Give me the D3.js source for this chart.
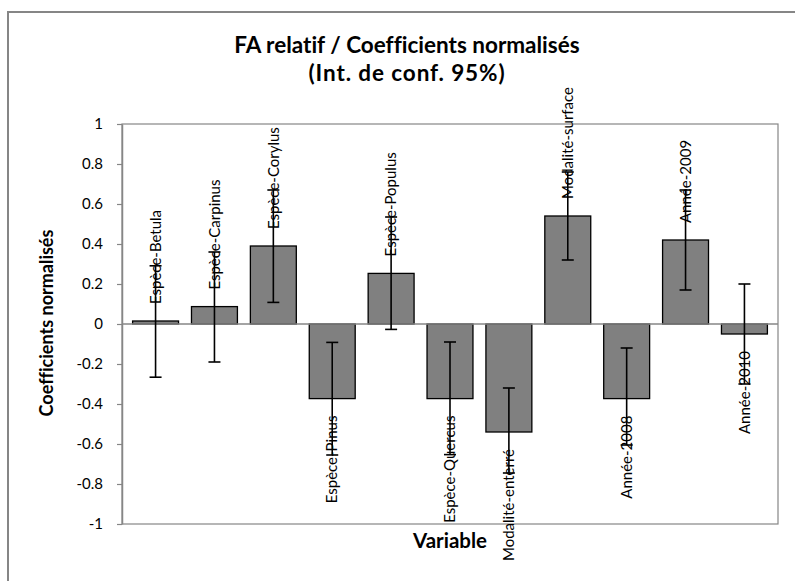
<!DOCTYPE html>
<html>
<head>
<meta charset="utf-8">
<script src="https://cdn.jsdelivr.net/npm/d3@7"></script>
<style>
  html, body { margin: 0; padding: 0; background: #fff; }
  svg { display: block; }
  text { font-family: Lato, "Noto Sans", sans-serif; font-variant-ligatures: none; }
</style>
</head>
<body>
<svg id="chart" width="795" height="581"></svg>
<script>
const categories = ["Espèce-Betula","Espèce-Carpinus","Espèce-Corylus","Espèce-Pinus","Espèce-Populus","Espèce-Quercus","Modalité-enterré","Modalité-surface","Année-2008","Année-2009","Année-2010"];
const values = [0.015, 0.087, 0.39, -0.373, 0.253, -0.373, -0.54, 0.54, -0.373, 0.42, -0.05];
const lower  = [-0.266, -0.19, 0.108, -0.655, -0.027, -0.653, -0.745, 0.32, -0.605, 0.17, -0.30];
const upper  = [0.291, 0.36, 0.67, -0.092, 0.535, -0.09, -0.32, 0.76, -0.12, 0.67, 0.20];
const yTicks = [-1, -0.8, -0.6, -0.4, -0.2, 0, 0.2, 0.4, 0.6, 0.8, 1];
const titleLines = ["FA relatif / Coefficients normalisés", "(Int. de conf. 95%)"];
const yTitle = "Coefficients normalisés";
const xTitle = "Variable";

const data = categories.map((c, i) => ({ c, v: values[i], lo: lower[i], hi: upper[i] }));

const svg = d3.select("#chart");
const plot = { x0: 122, x1: 778, y0: 124, y1: 524 };
const grey = "#868686";

// outer chart border (extends beyond the visible window)
svg.append("rect")
  .attr("x", 8).attr("y", 12).attr("width", 820).attr("height", 600)
  .attr("fill", "#fff").attr("stroke", grey).attr("stroke-width", 2);

const x = d3.scaleBand().domain(categories).range([plot.x0, plot.x1])
  .paddingInner(0.22).paddingOuter(0.18);
const y = d3.scaleLinear().domain([-1, 1]).range([plot.y1, plot.y0]);

// plot area frame
svg.append("rect")
  .attr("x", plot.x0).attr("y", plot.y0)
  .attr("width", plot.x1 - plot.x0).attr("height", plot.y1 - plot.y0)
  .attr("fill", "none").attr("stroke", grey).attr("stroke-width", 1.2);

// y axis
const yAxis = d3.axisLeft(y).tickValues(yTicks).tickSize(5).tickSizeOuter(0).tickPadding(14)
  .tickFormat(d => String(+d.toFixed(1)));
const ya = svg.append("g").attr("transform", `translate(${plot.x0},0)`).call(yAxis);
ya.select(".domain").attr("stroke", grey).attr("stroke-width", 1.5);
ya.selectAll(".tick line").attr("stroke", grey).attr("stroke-width", 1.2);
ya.selectAll(".tick text").attr("fill", "#000").style("font-size", "15px")
  .style("font-family", "Lato, sans-serif");

// bars
svg.append("g").selectAll("rect").data(data).join("rect")
  .attr("x", d => x(d.c))
  .attr("width", x.bandwidth())
  .attr("y", d => y(Math.max(0, d.v)))
  .attr("height", d => Math.abs(y(d.v) - y(0)))
  .attr("fill", "#808080").attr("stroke", "#000").attr("stroke-width", 1.3);

// zero axis line
svg.append("line")
  .attr("x1", plot.x0).attr("x2", plot.x1).attr("y1", y(0)).attr("y2", y(0))
  .attr("stroke", grey).attr("stroke-width", 1.5);

// category labels
svg.append("g").selectAll("text").data(data).join("text")
  .attr("transform", d => {
    const cx = x(d.c) + x.bandwidth() / 2;
    const yy = d.v >= 0 ? y(d.v) - 17 : y(d.v) + 17;
    return `translate(${cx},${yy}) rotate(-90)`;
  })
  .attr("text-anchor", d => d.v >= 0 ? "start" : "end")
  .attr("dy", "0.35em")
  .style("font-size", "15px")
  .attr("fill", "#000")
  .text(d => d.c);

// error bars
const eb = svg.append("g").attr("stroke", "#000").attr("stroke-width", 1.6);
const cap = 6;
data.forEach(d => {
  const cx = x(d.c) + x.bandwidth() / 2;
  eb.append("line").attr("x1", cx).attr("x2", cx).attr("y1", y(d.lo)).attr("y2", y(d.hi));
  eb.append("line").attr("x1", cx - cap).attr("x2", cx + cap).attr("y1", y(d.lo)).attr("y2", y(d.lo));
  eb.append("line").attr("x1", cx - cap).attr("x2", cx + cap).attr("y1", y(d.hi)).attr("y2", y(d.hi));
});

// title
svg.append("text").attr("x", 407).attr("y", 53).attr("text-anchor", "middle")
  .style("font-size", "22.5px").style("font-weight", "bold").text(titleLines[0]);
svg.append("text").attr("x", 407).attr("y", 81).attr("text-anchor", "middle")
  .style("font-size", "22.5px").style("font-weight", "bold").style("letter-spacing", "0.9px")
  .text(titleLines[1]);

// axis titles
svg.append("text").attr("transform", "translate(53,323) rotate(-90)").attr("text-anchor", "middle")
  .style("font-size", "18px").style("font-weight", "bold").text(yTitle);
svg.append("text").attr("x", 450).attr("y", 548).attr("text-anchor", "middle")
  .style("font-size", "20.5px").style("font-weight", "bold").text(xTitle);
</script>
</body>
</html>
